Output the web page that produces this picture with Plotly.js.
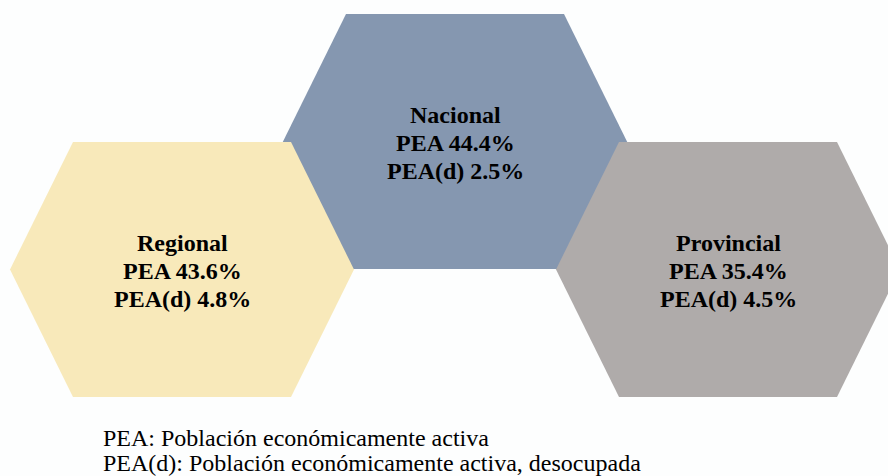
<!DOCTYPE html>
<html>
<head>
<meta charset="utf-8">
<script src="https://cdn.plot.ly/plotly-3.0.1.min.js"></script>
<style>
  html, body { margin: 0; padding: 0; background: #FDFEFE; }
  #chart { width: 888px; height: 476px; }
</style>
</head>
<body>
<div id="chart"></div>
<script>
// ---- data ----
const categories = ['Nacional', 'Regional', 'Provincial'];
const pea = [44.4, 43.6, 35.4];
const peaD = [2.5, 4.8, 4.5];
const notes = ['PEA: Población económicamente activa',
               'PEA(d): Población económicamente activa, desocupada'];

// ---- styling / placement ----
const fills = ['#8597B0', '#F8E9BA', '#AFABAA'];
const centers = [[455, 141.5], [182, 269.5], [728, 269.5]];
const HW = 172, HA = 109, HH = 127.5;   // hexagon half-width, half top edge, half-height
const FONT = 'Liberation Serif';

function hexPath(c) {
  const [cx, cy] = c;
  const xs = [cx - HW, cx - HA, cx + HA, cx + HW, cx + HA, cx - HA, cx - HW];
  const ys = [cy, cy - HH, cy - HH, cy, cy + HH, cy + HH, cy];
  return { xs, ys };
}

const traces = categories.map((cat, i) => {
  const p = hexPath(centers[i]);
  return {
    type: 'scatter', mode: 'lines', x: p.xs, y: p.ys,
    fill: 'toself', fillcolor: fills[i],
    line: { width: 0, color: fills[i] },
    hoverinfo: 'skip', showlegend: false, name: cat
  };
});

const annotations = [];
categories.forEach((cat, i) => {
  const [cx, cy] = centers[i];
  const lines = [cat, 'PEA ' + pea[i].toFixed(1) + '%', 'PEA(d) ' + peaD[i].toFixed(1) + '%'];
  lines.forEach((t, k) => {
    annotations.push({
      x: cx, y: cy + 1.5 + (k - 1) * 28, xref: 'x', yref: 'y',
      text: '<b>' + t + '</b>', showarrow: false,
      xanchor: 'center', yanchor: 'middle',
      font: { family: FONT, size: 24, color: '#000000' }
    });
  });
});
notes.forEach((t, k) => {
  annotations.push({
    x: 101, y: 438 + k * 25, xref: 'x', yref: 'y',
    text: t, showarrow: false, xanchor: 'left', yanchor: 'middle',
    font: { family: FONT, size: 24, color: '#000000' }
  });
});

const layout = {
  width: 888, height: 476,
  margin: { l: 0, r: 0, t: 0, b: 0, pad: 0 },
  paper_bgcolor: '#FDFEFE', plot_bgcolor: '#FDFEFE',
  font: { family: FONT },
  xaxis: { range: [0, 888], visible: false, fixedrange: true },
  yaxis: { range: [476, 0], visible: false, fixedrange: true },
  annotations: annotations,
  showlegend: false
};

Plotly.newPlot('chart', traces, layout, { displayModeBar: false, staticPlot: true });
</script>
</body>
</html>
